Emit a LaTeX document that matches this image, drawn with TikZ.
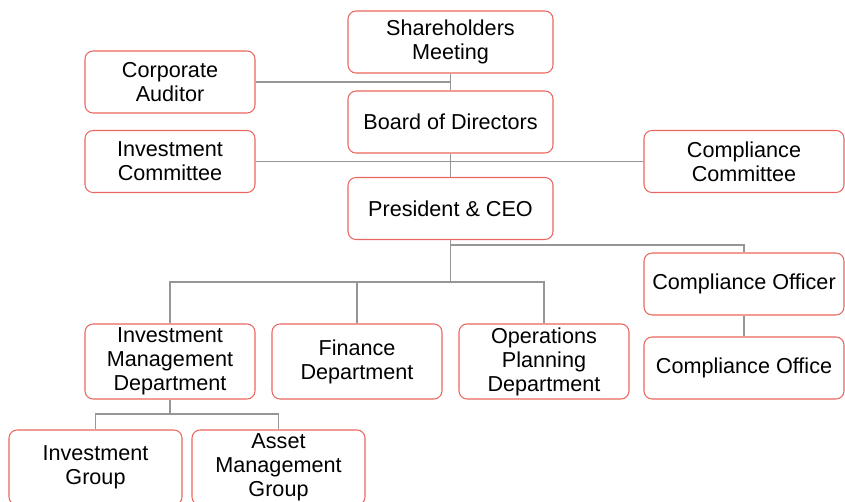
\documentclass[tikz,border=0pt]{standalone}
\usepackage{fontspec}
\setmainfont{Liberation Sans}
\usepackage{xcolor}
\definecolor{boxred}{RGB}{234,102,96}
\definecolor{linegray}{RGB}{150,150,150}

\begin{document}
\begin{tikzpicture}[
  unit/.style={rectangle, rounded corners=1.6mm, draw=boxred, line width=0.6pt, fill=white, align=center,
    minimum width=3.4cm, minimum height=1.24cm, inner sep=0pt, font=\fontsize{12.3}{13.7}\selectfont},
  top/.style={unit, minimum width=4.1cm},
  side/.style={unit, minimum width=4.0cm},
  dept/.style={unit, minimum height=1.5cm},
  edge/.style={line width=0.7pt, draw=linegray}
]
\useasboundingbox (0,0) rectangle (16.9,10.02);
\node[top] (sh) at (9.01,9.18) {Shareholders\\Meeting};
\node[unit] (ca) at (3.40,8.38) {Corporate\\Auditor};
\node[top] (bd) at (9.01,7.58) {Board of Directors};
\node[unit] (ic) at (3.40,6.79) {Investment\\Committee};
\node[side] (cc) at (14.88,6.79) {Compliance\\Committee};
\node[top] (ceo) at (9.01,5.85) {President \& CEO};
\node[side] (co) at (14.88,4.34) {Compliance Officer};
\node[side] (cof) at (14.88,2.66) {Compliance Office};
\node[dept] (imd) at (3.40,2.79) {Investment\\Management\\Department};
\node[dept] (fd) at (7.14,2.79) {Finance\\Department};
\node[dept] (opd) at (10.88,2.79) {Operations\\Planning\\Department};
\node[dept, minimum width=3.46cm] (ig) at (1.91,0.67) {Investment\\Group};
\node[dept, minimum width=3.46cm] (amg) at (5.57,0.67) {Asset\\Management\\Group};
\coordinate (j1) at (9.01,4.38);
\coordinate (j2) at (9.01,5.12);
\coordinate (j3) at (3.40,1.74);
\draw[edge] (sh) -- (bd);
\draw[edge] (ca.east) -- (ca.east -| sh.south);
\draw[edge] (bd) -- (ceo);
\draw[edge] (ic.east) -- (cc.west);
\draw[edge] (ceo) -- (j1);
\draw[edge] (imd.north) |- (j1) -| (opd.north);
\draw[edge] (fd.north) -- (fd.north |- j1);
\draw[edge] (j2) -| (co.north);
\draw[edge] (co) -- (cof);
\draw[edge] (imd) -- (j3);
\draw[edge] (ig.north) |- (j3) -| (amg.north);
\end{tikzpicture}
\end{document}
